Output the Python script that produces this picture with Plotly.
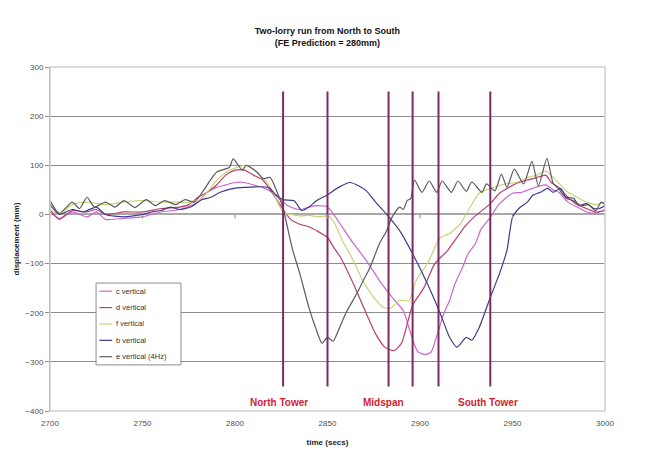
import plotly.graph_objects as go

# ---- series data: time (s) and vertical displacement (mm) ----
c_t = [2700, 2705, 2712, 2720, 2725, 2730, 2740, 2750, 2760, 2770, 2780, 2785, 2790, 2795, 2800, 2805,
       2810, 2815, 2820, 2826, 2830, 2835, 2840, 2845, 2850, 2853, 2858, 2864, 2871, 2878, 2885, 2891,
       2894, 2897, 2899, 2903, 2906, 2908, 2910, 2913, 2916, 2919, 2923, 2926, 2930, 2933, 2938, 2943,
       2950, 2955, 2960, 2965, 2968, 2972, 2975, 2980, 2985, 2990, 2995, 3000]
c_v = [5, -8, 5, -5, 5, -10, -8, -5, 5, 10, 25, 45, 55, 60, 65, 65,
       60, 55, 45, 25, 15, 10, 15, 18, 15, 2, -26, -59, -94, -134, -169, -196,
       -230, -265, -280, -285, -280, -260, -236, -200, -175, -140, -108, -80, -59, -30, -6, 22,
       43, 45, 52, 58, 60, 50, 45, 25, 15, 5, 3, 10]

d_t = [2700, 2705, 2712, 2720, 2725, 2730, 2740, 2750, 2760, 2770, 2775, 2780, 2785, 2790, 2795, 2800,
       2805, 2810, 2815, 2820, 2826, 2830, 2835, 2840, 2845, 2850, 2853, 2857, 2864, 2871, 2876, 2881,
       2886, 2890, 2896, 2902, 2908, 2915, 2924, 2929, 2938, 2943, 2952, 2958, 2963, 2968, 2971, 2975,
       2980, 2985, 2990, 2995, 3000]
d_v = [10, -10, 8, 5, 10, 0, 5, 5, 12, 15, 20, 35, 45, 60, 80, 90,
       90, 80, 70, 45, 10, -10, -20, -25, -35, -47, -65, -87, -141, -202, -243, -270,
       -277, -262, -185, -150, -100, -73, -26, -6, 22, 43, 63, 70, 75, 80, 65, 55,
       35, 20, 12, 5, 8]

f_t = [2700, 2705, 2712, 2720, 2730, 2740, 2750, 2760, 2770, 2779, 2785, 2790, 2797, 2806, 2811, 2815,
       2820, 2826, 2830, 2835, 2840, 2845, 2850, 2853, 2858, 2864, 2869, 2875, 2880, 2884, 2889, 2894,
       2898, 2904, 2911, 2916, 2922, 2927, 2932, 2938, 2947, 2952, 2958, 2963, 2968, 2972, 2976, 2980,
       2985, 2990, 2995, 3000]
f_v = [10, 0, 20, 25, 20, 25, 28, 25, 25, 25, 45, 69, 90, 100, 88, 75,
       49, 4, 0, -3, -2, -5, -3, -12, -53, -94, -134, -169, -189, -191, -175, -175,
       -134, -100, -47, -39, -18, 14, 43, 53, 63, 65, 75, 80, 88, 75, 60, 45,
       35, 25, 20, 25]

b_t = [2700, 2705, 2712, 2718, 2725, 2730, 2740, 2750, 2755, 2760, 2765, 2770, 2776, 2782, 2787, 2792,
       2798, 2805, 2818, 2822, 2826, 2832, 2836, 2840, 2844, 2850, 2856, 2862, 2867, 2871, 2876, 2882,
       2889, 2896, 2904, 2911, 2916, 2920, 2925, 2928, 2932, 2938, 2943, 2947, 2950, 2954, 2958, 2961,
       2965, 2969, 2972, 2976, 2979, 2983, 2986, 2990, 2994, 2997, 3000]
b_v = [20, 0, 10, 5, 15, 0, -5, 0, 5, 8, 15, 10, 15, 30, 35, 45,
       52, 55, 55, 40, 30, 28, 8, 15, 28, 40, 55, 65, 58, 48, 25, 0,
       -33, -80, -141, -202, -250, -270, -250, -256, -230, -169, -120, -73, -6, 14, 25, 39,
       45, 53, 45, 53, 35, 33, 18, 22, 12, 12, 18]

e_t = [2700, 2705, 2712, 2716, 2720, 2724, 2730, 2735, 2740, 2746, 2752, 2757, 2762, 2768, 2773, 2778,
       2783, 2790, 2797, 2799, 2804, 2806, 2812, 2815, 2819, 2823, 2826, 2828, 2831, 2835, 2840, 2844,
       2847, 2850, 2853, 2856, 2860, 2866, 2870, 2873, 2878, 2882, 2885, 2889, 2891, 2893, 2895, 2897,
       2901, 2905, 2909, 2912, 2917, 2920.5, 2925, 2928, 2933.5, 2936, 2940.5, 2944, 2947, 2951, 2956,
       2960.5, 2964, 2968.6, 2972, 2975, 2979, 2983, 2987, 2991, 2995, 2998, 3000]
e_v = [28, 2, 25, 12, 35, 15, 25, 15, 28, 14, 30, 18, 28, 20, 30, 25,
       49, 86, 96, 113, 90, 100, 86, 73, 75, 43, 12, -20, -70, -120, -190, -235,
       -262, -250, -258, -235, -200, -160, -130, -108, -60, -33, -5, 15, 10, 28, 32, 70,
       45, 68, 45, 68, 45, 68, 47, 66, 45, 62, 48, 82, 55, 92, 62,
       108, 58, 114, 63, 52, 33, 28, 18, 20, 8, 25, 20]

series_names = ["c vertical", "d vertical", "f vertical", "b vertical", "e vertical (4Hz)"]
series_colors = ["#CC66CC", "#B8406E", "#CCD27A", "#3C3C8E", "#5C5C5C"]
series_t = [c_t, d_t, f_t, b_t, e_t]
series_v = [c_v, d_v, f_v, b_v, e_v]

# ---- bridge reference positions (s) ----
marker_times = [2826, 2850, 2883, 2896, 2910, 2938]
marker_span = [-350, 250]
label_texts = ["North Tower", "Midspan", "South Tower"]
label_times = [2824, 2880, 2937]
label_level = -383

x_ticks = [2700, 2750, 2800, 2850, 2900, 2950, 3000]
y_ticks = [300, 200, 100, 0, -100, -200, -300, -400]

FONT = "Liberation Sans, Arial, sans-serif"

fig = go.Figure()
for name, col, t, v in zip(series_names, series_colors, series_t, series_v):
    fig.add_trace(go.Scatter(x=t, y=v, mode="lines", name=name, showlegend=False,
                             line=dict(color=col, width=1.2, shape="spline", smoothing=0.6)))

# vertical markers for towers / midspan
for mt in marker_times:
    fig.add_shape(type="line", x0=mt, x1=mt, y0=marker_span[0], y1=marker_span[1],
                  xref="x", yref="y", line=dict(color="#7A2C60", width=2), layer="above")

# small tick marks on the zero line
for xt in x_ticks:
    fig.add_shape(type="line", x0=xt, x1=xt, y0=0, y1=-4, xref="x", yref="y",
                  ysizemode="pixel", yanchor=0, line=dict(color="#8A8A8A", width=1))

# light plot border
fig.add_shape(type="rect", x0=0, x1=1, y0=0, y1=1, xref="paper", yref="paper",
              line=dict(color="#CFCFCF", width=1.5), layer="above")

for txt, lt in zip(label_texts, label_times):
    fig.add_annotation(x=lt, y=label_level, text="<b>%s</b>" % txt, showarrow=False,
                       font=dict(family=FONT, size=10, color="#D42232"))

# compact legend box (drawn in paper coordinates of the plot area)
leg_x0, leg_x1, leg_y0, leg_y1 = 0.083, 0.236, 0.134, 0.372
fig.add_shape(type="rect", x0=leg_x0, x1=leg_x1, y0=leg_y0, y1=leg_y1,
              xref="paper", yref="paper", fillcolor="white",
              line=dict(color="#8C8C8C", width=1), layer="above")
row_h = (leg_y1 - leg_y0) / len(series_names)
for i, (name, col) in enumerate(zip(series_names, series_colors)):
    yy = leg_y1 - row_h * (i + 0.5)
    fig.add_shape(type="line", x0=leg_x0 + 0.006, x1=leg_x0 + 0.029, y0=yy, y1=yy,
                  xref="paper", yref="paper", line=dict(color=col, width=1.2), layer="above")
    fig.add_annotation(x=leg_x0 + 0.032, y=yy, xref="paper", yref="paper", text=name,
                       showarrow=False, xanchor="left", yanchor="middle",
                       font=dict(family=FONT, size=7.5, color="#333333"))

fig.update_layout(
    width=668, height=459,
    margin=dict(l=50, r=63, t=67, b=48),
    paper_bgcolor="white", plot_bgcolor="white",
    font=dict(family=FONT, size=8, color="#404040"),
    title=dict(text="<b>Two-lorry run from North to South<br>(FE Prediction = 280mm)</b>",
               x=0.49, xanchor="center", y=0.925, yanchor="top",
               font=dict(family=FONT, size=9, color="#111111")),
    xaxis=dict(range=[2700, 3000], tickvals=x_ticks, showgrid=False, zeroline=False,
               showline=False, ticks="outside", ticklen=4, tickcolor="rgba(0,0,0,0)",
               tickfont=dict(size=8, color="#505050"),
               title=dict(text="<b>time (secs)</b>", font=dict(size=8, color="#222222"), standoff=12)),
    yaxis=dict(range=[-400, 300], tickvals=y_ticks, showgrid=True, gridcolor="#8C8C8C",
               gridwidth=1, zeroline=True, zerolinecolor="#A8A8A8", zerolinewidth=1.5,
               showline=True, linecolor="#8C8C8C", ticks="outside", ticklen=4,
               tickcolor="#8C8C8C", tickfont=dict(size=8, color="#505050"),
               title=dict(text="<b>displacement (mm)</b>", font=dict(size=8, color="#222222"),
                          standoff=4)),
    showlegend=False,
)

fig.write_html("out.html")
